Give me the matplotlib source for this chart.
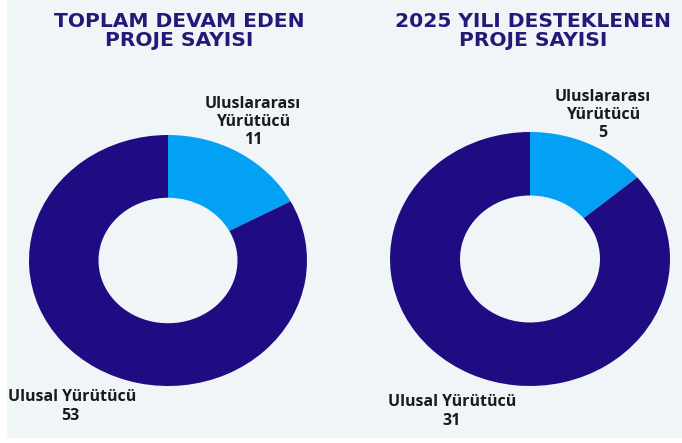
import matplotlib.pyplot as plt

# Proje sayıları (iki halka grafik)
titles = ["TOPLAM DEVAM EDEN\nPROJE SAYISI", "2025 YILI DESTEKLENEN\nPROJE SAYISI"]
categories = ["Uluslararası\nYürütücü", "Ulusal Yürütücü"]
toplam = [11, 53]
yil_2025 = [5, 31]
colors = ["#03a1f4", "#1f0c82"]

W, H = 682, 443
fig = plt.figure(figsize=(W / 100, H / 100), dpi=100)
fig.patch.set_facecolor("#f0f5f8")


def px(x, y):
    return x / W, 1 - y / H


# çerçeve kenarları (beyaz şerit)
fig.patches.append(plt.Rectangle((0, 0), 6 / W, 1, transform=fig.transFigure,
                                 color="white", zorder=0))
fig.patches.append(plt.Rectangle((0, 0), 1, 5 / H, transform=fig.transFigure,
                                 color="white", zorder=0))

# donut konumları (piksel): sol, üst, sağ, alt
boxes = [(29, 135, 307, 386), (390, 132, 670, 386)]
datasets = [toplam, yil_2025]
title_x = [179, 533]
top_lbl = [(253, 122), (603, 115)]
bot_lbl = [(8, 397, 70), (388, 402, 452)]

for i, values in enumerate(datasets):
    l, t, r, b = boxes[i]
    ax = fig.add_axes([l / W, 1 - b / H, (r - l) / W, (b - t) / H])
    ax.pie(values, colors=colors, startangle=90, counterclock=False,
           radius=1, wedgeprops=dict(width=0.5, linewidth=0))
    ax.set_aspect("auto")
    ax.set_xlim(-1, 1)
    ax.set_ylim(-1, 1)
    ax.axis("off")

    x, y = px(title_x[i], 31)
    fig.text(x, y, titles[i], ha="center", va="center", fontsize=14.6,
             fontweight="bold", color="#221a78", family="DejaVu Sans",
             linespacing=1.02)

    x, y = px(*top_lbl[i])
    fig.text(x, y, f"{categories[0]}\n{values[0]}", ha="center", va="center",
             fontsize=11.5, fontweight="bold", color="#1a1a1a",
             family="Open Sans", linespacing=1.15)

    bx, by, nx = bot_lbl[i]
    x, y = px(bx, by)
    fig.text(x, y, categories[1], ha="left", va="center", fontsize=11.5,
             fontweight="bold", color="#1a1a1a", family="Open Sans")
    x, y = px(nx, by + 19)
    fig.text(x, y, str(values[1]), ha="center", va="center", fontsize=11.5,
             fontweight="bold", color="#1a1a1a", family="Open Sans")

fig.savefig("out.png", dpi=100, facecolor=fig.get_facecolor())
